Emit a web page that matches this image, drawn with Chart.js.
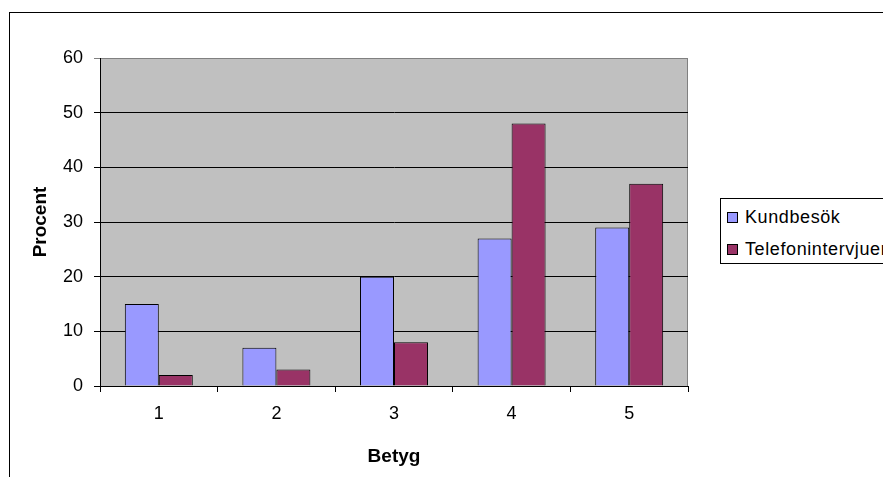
<!DOCTYPE html>
<html>
<head>
<meta charset="utf-8">
<script src="https://cdn.jsdelivr.net/npm/chart.js@4/dist/chart.umd.min.js"></script>
<style>
  html, body { margin: 0; padding: 0; background: #fff; overflow: hidden; }
  #wrap { position: relative; width: 883px; height: 477px; }
  #frame { position: absolute; left: 9px; top: 12px; width: 900px; height: 500px; border: 1px solid #000; box-sizing: border-box; }
  #chart { position: absolute; left: 0; top: 0; }
  #legend { position: absolute; left: 720px; top: 198px; width: 200px; height: 66px; border: 1px solid #000; box-sizing: border-box;
    font-family: "Liberation Sans", Arial, sans-serif; font-size: 18px; color: #000; background: #fff; }
  .item { position: absolute; left: 6px; white-space: nowrap; letter-spacing: 0.6px; line-height: 20px; }
  .sw { display: inline-block; width: 9px; height: 9px; border: 1px solid #000; margin-right: 7px; vertical-align: 0px; }
</style>
</head>
<body>
<div id="wrap">
  <div id="frame"></div>
  <canvas id="chart" width="883" height="477"></canvas>
  <div id="legend"></div>
</div>
<script>
const categories = ['1', '2', '3', '4', '5'];
const kundbesok = [15, 7, 20, 27, 29];
const telefon = [2, 3, 8, 48, 37];
const seriesNames = ['Kundbesök', 'Telefonintervjuer'];
const seriesColors = ['#9999FF', '#993366'];

const plotBackground = {
  id: 'plotBackground',
  beforeDraw(chart) {
    const { ctx, chartArea: a } = chart;
    ctx.save();
    ctx.fillStyle = '#C0C0C0';
    ctx.fillRect(a.left, a.top, a.right - a.left, a.bottom - a.top);
    ctx.strokeStyle = '#808080';
    ctx.lineWidth = 1;
    ctx.strokeRect(a.left + 0.5, a.top + 0.5, a.right - a.left - 1, a.bottom - a.top);
    ctx.restore();
  }
};

const fontFamily = '"Liberation Sans", Arial, sans-serif';

new Chart(document.getElementById('chart'), {
  type: 'bar',
  data: {
    labels: categories,
    datasets: [
      { label: seriesNames[0], data: kundbesok, backgroundColor: seriesColors[0], borderColor: '#000', borderWidth: 1 },
      { label: seriesNames[1], data: telefon, backgroundColor: seriesColors[1], borderColor: '#000', borderWidth: 1 }
    ]
  },
  options: {
    responsive: false,
    animation: false,
    layout: { padding: { left: 0, top: 58, right: 195, bottom: 0 } },
    datasets: { bar: { categoryPercentage: 0.578, barPercentage: 1 } },
    plugins: { legend: { display: false }, tooltip: { enabled: false } },
    scales: {
      x: {
        offset: true,
        grid: { display: true, drawOnChartArea: false, drawTicks: true, tickLength: 6, color: '#000', offset: true },
        border: { color: '#000' },
        ticks: { color: '#000', font: { family: fontFamily, size: 18 }, padding: 11 },
        title: { display: true, text: 'Betyg', color: '#000', font: { family: fontFamily, size: 19, weight: 'bold' }, padding: { top: 4, bottom: 9 } },
        afterFit(scale) { scale.height = 477 - 386; }
      },
      y: {
        min: 0, max: 60,
        ticks: { stepSize: 10, color: '#000', font: { family: fontFamily, size: 18 }, padding: 11 },
        grid: { color: (c) => (c.tick && c.tick.value === 60 ? '#808080' : '#000'), tickLength: 6 },
        border: { color: '#000' },
        title: { display: true, text: 'Procent', color: '#000', font: { family: fontFamily, size: 19, weight: 'bold' }, padding: { top: 29, bottom: 4 } },
        afterFit(scale) { scale.width = 100; }
      }
    }
  },
  plugins: [plotBackground]
});

const legend = document.getElementById('legend');
seriesNames.forEach((name, i) => {
  const item = document.createElement('div');
  item.className = 'item';
  item.style.top = (i === 0 ? 8 : 40) + 'px';
  const sw = document.createElement('span');
  sw.className = 'sw';
  sw.style.background = seriesColors[i];
  item.appendChild(sw);
  item.appendChild(document.createTextNode(name));
  legend.appendChild(item);
});
</script>
</body>
</html>
